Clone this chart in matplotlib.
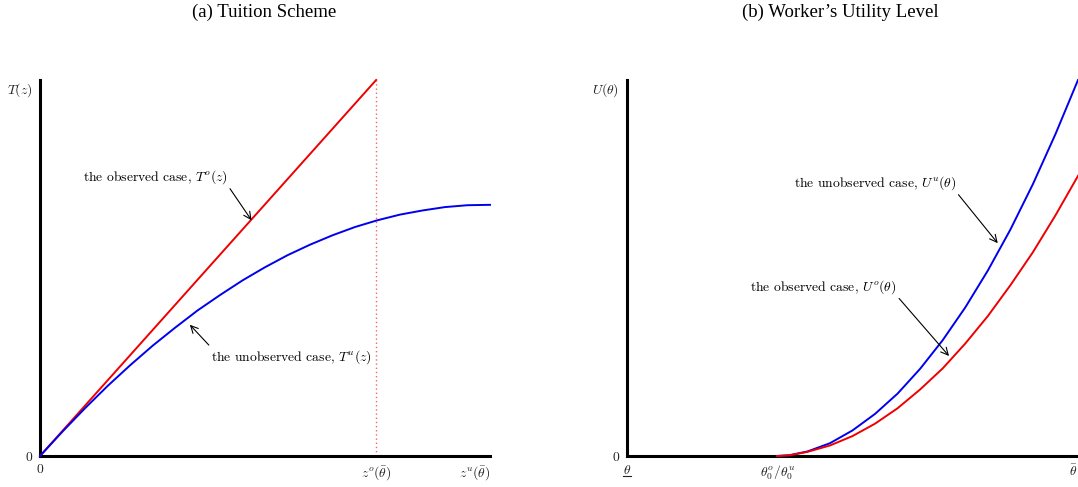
import matplotlib
matplotlib.use("Agg")
import matplotlib.pyplot as plt
from matplotlib.lines import Line2D

plt.rcParams['font.family'] = ['cmr10', 'DejaVu Serif']
plt.rcParams['mathtext.fontset'] = 'cm'
plt.rcParams['axes.unicode_minus'] = False

# (a) tuition scheme
z_obs = [0.0, 0.747]
T_obs = [0.0, 1.0]
z_unobs = [0.0, 0.05, 0.10, 0.15, 0.20, 0.25, 0.30, 0.35, 0.40, 0.45, 0.50,
           0.55, 0.60, 0.65, 0.70, 0.75, 0.80, 0.85, 0.90, 0.95, 1.0]
T_unobs = [0.0, 0.065, 0.127, 0.186, 0.241, 0.293, 0.341, 0.387, 0.428, 0.467, 0.502,
           0.534, 0.562, 0.587, 0.609, 0.627, 0.642, 0.653, 0.662, 0.667, 0.668]
z_o_bar = 0.747
left_xticks = [0.0, z_o_bar, 1.0]
left_xlabels = ['0', r'$z^o(\bar{\theta})$', r'$z^u(\bar{\theta})$']

# (b) utility level
theta0 = 0.333
theta = [0.333, 0.36, 0.40, 0.45, 0.50, 0.55, 0.60, 0.65, 0.70, 0.75, 0.80, 0.85, 0.90, 0.95, 1.0]
U_unobs = [0.0, 0.002, 0.012, 0.034, 0.068, 0.112, 0.166, 0.232, 0.308, 0.395, 0.493, 0.602, 0.723, 0.856, 1.0]
U_obs = [0.0, 0.0018, 0.011, 0.028, 0.053, 0.086, 0.127, 0.177, 0.233, 0.299, 0.372, 0.454, 0.542, 0.640, 0.745]
right_xticks = [0.0, theta0, 1.0]
right_xlabels = [r'$\theta$', r'$\theta_0^o/\theta_0^u$', r'$\bar{\theta}$']

fig = plt.figure(figsize=(10.78, 4.87), dpi=100)
axL = fig.add_axes([40/1078, 31/487, 450/1078, 376/487])
axR = fig.add_axes([627/1078, 31/487, 451/1078, 376/487])

fs = 9.8
for ax in (axL, axR):
    ax.set_xlim(0, 1)
    ax.set_ylim(0, 1)
    ax.spines['top'].set_visible(False)
    ax.spines['right'].set_visible(False)
    ax.spines['left'].set_linewidth(2.2)
    ax.spines['bottom'].set_linewidth(2.2)
    ax.tick_params(length=0, labelsize=fs, pad=5.5, colors='#222222')

# left panel
axL.plot(z_obs, T_obs, color='#ee0000', lw=1.4, clip_on=False, zorder=3)
axL.plot(z_unobs, T_unobs, color='#0000ee', lw=1.4, clip_on=False, zorder=3)
axL.plot([z_o_bar, z_o_bar], [0, 1], color='#ee6677', lw=1.0, ls=(0, (1, 2)), zorder=2)
axL.set_xticks(left_xticks)
axL.set_xticklabels(left_xlabels)
axL.get_xticklabels()[2].set_ha('right')
axL.set_yticks([0, 0.98])
axL.set_yticklabels(['0', r'$T(z)$'])

arrow = dict(arrowstyle='->', color='black', lw=0.8, shrinkA=0, shrinkB=0, mutation_scale=13)
axL.annotate(r'the observed case, $T^o(z)$', xy=(0.470, 0.627), xytext=(0.418, 0.742),
             ha='right', va='center', fontsize=fs,
             arrowprops=dict(arrow, relpos=(1, 0)))
axL.annotate(r'the unobserved case, $T^u(z)$', xy=(0.333, 0.349), xytext=(0.381, 0.264),
             ha='left', va='center', fontsize=fs,
             arrowprops=dict(arrow, relpos=(0, 1)))

# right panel
axR.plot(theta, U_unobs, color='#0000ee', lw=1.4, clip_on=False, zorder=3)
axR.plot(theta, U_obs, color='#ee0000', lw=1.4, clip_on=False, zorder=3)
axR.set_xticks(right_xticks)
axR.set_xticklabels(right_xlabels)
axR.get_xticklabels()[2].set_ha('right')
axR.set_yticks([0, 0.98])
axR.set_yticklabels(['0', r'$U(\theta)$'])

axR.annotate(r'the unobserved case, $U^u(\theta)$', xy=(0.822, 0.566), xytext=(0.730, 0.726),
             ha='right', va='center', fontsize=fs,
             arrowprops=dict(arrow, relpos=(1, 0)))
axR.annotate(r'the observed case, $U^o(\theta)$', xy=(0.714, 0.266), xytext=(0.598, 0.450),
             ha='right', va='center', fontsize=fs,
             arrowprops=dict(arrow, relpos=(1, 0)))

fig.text(264/1078, 1 - 12/487, '(a) Tuition Scheme', ha='center', va='center',
         fontsize=13.5, family='Liberation Serif')
fig.text(840/1078, 1 - 12/487, "(b) Worker\u2019s Utility Level", ha='center', va='center',
         fontsize=13.5, family='Liberation Serif')

# underline for the lower bound theta
fig.canvas.draw()
bb = axR.get_xticklabels()[0].get_window_extent()
fig.add_artist(Line2D([bb.x0 / 1078, bb.x1 / 1078], [(bb.y0 + 1) / 487] * 2,
                      color='#222222', lw=0.8))

fig.savefig('out.png', dpi=100)
